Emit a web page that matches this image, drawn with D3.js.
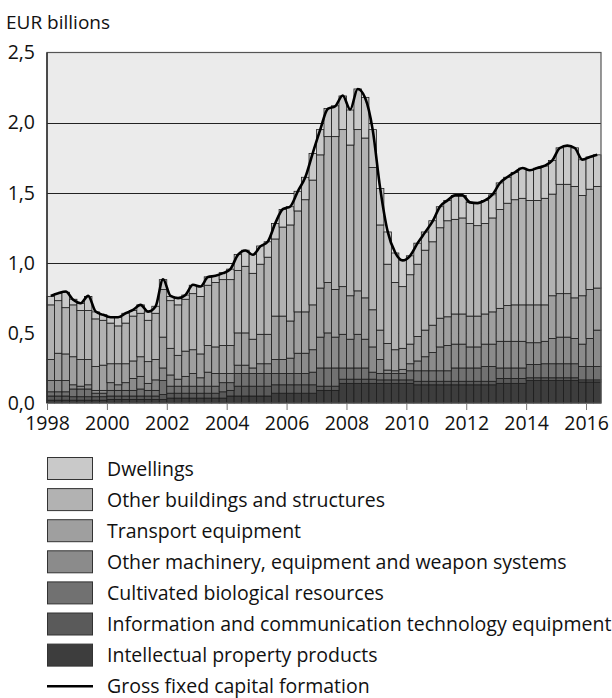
<!DOCTYPE html>
<html>
<head>
<meta charset="utf-8">
<script src="https://cdn.jsdelivr.net/npm/d3@7"></script>
<style>
  body { margin: 0; background: #fff; }
  svg text { font-family: "Open Sans", "Noto Sans", sans-serif; fill: #111; }
</style>
</head>
<body>
<svg id="chart" width="612" height="698"></svg>
<script>
// quarterly data, 1998Q1 .. 2016Q2 (EUR billions)
const startYear = 1998;
const nQuarters = 74;

const dwellings = [
  .06, .05, .11, .04, .05, .10, .05, .04, .04, .06, .07, .04, .06, .06, .05, .07,
  .03, .05, .03, .06, .07, .06, .05, .05, .075, .115, .115, .135, .13, .11, .11, .125,
  .13, .14, .16, .19, .18, .20, .22, .24, .25, .29, .29, .27, .26, .23, .21, .19,
  .135, .15, .13, .15, .15, .145, .17, .16, .15, .16, .165, .165, .19, .185, .195, .215,
  .215, .23, .23, .24, .26, .275, .275, .255, .23, .225
];
const otherBuildings = [
  .39, .375, .33, .37, .35, .35, .34, .32, .29, .27, .29, .32, .31, .295, .33, .34,
  .34, .36, .37, .40, .41, .43, .46, .47, .47, .445, .475, .47, .50, .55, .55, .635,
  .685, .72, .80, .89, .95, 1.04, 1.09, 1.12, 1.075, 1.15, 1.14, 1.015, .75, .565, .48, .44,
  .495, .515, .57, .595, .645, .685, .675, .685, .66, .645, .645, .67, .705, .73, .75, .76,
  .745, .745, .76, .725, .78, .78, .795, .715, .715, .725
];
const transport = [
  .15, .195, .19, .20, .19, .18, .17, .18, .135, .15, .135, .125, .14, .155, .145, .22,
  .19, .17, .18, .17, .17, .19, .19, .20, .20, .23, .23, .205, .21, .21, .31, .31,
  .265, .295, .295, .32, .35, .36, .34, .34, .31, .31, .295, .265, .21, .19, .15, .15,
  .14, .175, .19, .195, .205, .205, .215, .215, .22, .22, .215, .23, .235, .255, .26, .26,
  .27, .27, .26, .305, .31, .31, .29, .345, .35, .30
];
const machinery = [
  .08, .08, .08, .03, .02, .03, .02, .02, .055, .04, .055, .085, .09, .05, .075, .09,
  .08, .05, .07, .09, .06, .10, .09, .065, .065, .06, .06, .04, .07, .07, .10, .10,
  .11, .145, .145, .16, .22, .25, .22, .24, .205, .24, .205, .18, .10, .025, .02, .03,
  .05, .07, .10, .13, .17, .18, .17, .17, .15, .15, .16, .16, .19, .19, .19, .19,
  .155, .155, .16, .18, .19, .19, .18, .16, .20, .26
];
const cultivated = [
  .03, .03, .03, .055, .055, .055, .025, .025, .04, .04, .04, .04, .05, .04, .04, .10,
  .05, .05, .05, .05, .05, .05, .05, .065, .055, .09, .09, .09, .09, .09, .08, .08,
  .08, .08, .08, .09, .13, .13, .13, .08, .08, .08, .08, .05, .045, .045, .045, .045,
  .065, .075, .075, .075, .075, .075, .095, .095, .095, .095, .105, .105, .075, .075, .075, .075,
  .095, .095, .10, .10, .10, .10, .10, .095, .095, .095
];
const ict = [
  .03, .03, .03, .025, .025, .025, .025, .025, .025, .025, .025, .025, .025, .025, .025, .035,
  .035, .035, .035, .035, .035, .035, .035, .045, .04, .07, .07, .07, .07, .07, .06, .06,
  .06, .06, .06, .06, .03, .03, .03, .03, .03, .03, .03, .03, .025, .025, .025, .025,
  .025, .025, .025, .025, .025, .025, .025, .025, .025, .025, .025, .025, .035, .035, .035, .035,
  .02, .02, .02, .02, .02, .02, .02, .015, .015, .015
];
const intellectual = [
  .02, .02, .02, .02, .02, .02, .02, .02, .025, .025, .025, .025, .025, .025, .025, .025,
  .035, .035, .035, .035, .035, .035, .035, .035, .05, .05, .05, .05, .05, .05, .07, .07,
  .07, .07, .07, .07, .09, .09, .09, .14, .14, .14, .14, .14, .14, .14, .14, .14,
  .14, .13, .13, .13, .13, .13, .13, .13, .13, .13, .13, .13, .14, .14, .14, .14,
  .16, .16, .16, .16, .16, .16, .16, .15, .15, .15
];
// gross fixed capital formation (line)
const gfcf = [
  .764, .783, .795, .736, .712, .764, .652, .629, .612, .612, .640, .664, .700, .652, .688, .883,
  .764, .748, .771, .843, .831, .898, .907, .926, .955, 1.057, 1.088, 1.057, 1.117, 1.152, 1.283, 1.383,
  1.402, 1.510, 1.610, 1.783, 1.950, 2.098, 2.117, 2.193, 2.093, 2.240, 2.176, 1.950, 1.533, 1.224, 1.074, 1.017,
  1.050, 1.140, 1.217, 1.295, 1.402, 1.445, 1.481, 1.481, 1.431, 1.426, 1.445, 1.486, 1.569, 1.612, 1.645, 1.676,
  1.660, 1.676, 1.693, 1.731, 1.819, 1.836, 1.819, 1.736, 1.755, 1.771
];

const seriesNames = [
  'Dwellings',
  'Other buildings and structures',
  'Transport equipment',
  'Other machinery, equipment and weapon systems',
  'Cultivated biological resources',
  'Information and communication technology equipment',
  'Intellectual property products'
];
const seriesColors = ['#c9c9c9', '#b2b2b2', '#9f9f9f', '#8b8b8b', '#717171', '#5a5a5a', '#3d3d3d'];
const lineName = 'Gross fixed capital formation';
const yTicks = [0, 0.5, 1.0, 1.5, 2.0, 2.5];
const xTickYears = [1998, 2000, 2002, 2004, 2006, 2008, 2010, 2012, 2014, 2016];

// table for the stack
const allSeries = [dwellings, otherBuildings, transport, machinery, cultivated, ict, intellectual];
const keys = seriesNames.slice().reverse(); // bottom first
const table = d3.range(nQuarters).map(i => {
  const row = { q: i };
  seriesNames.forEach((n, k) => row[n] = allSeries[k][i]);
  return row;
});

const svg = d3.select('#chart');
const margin = { left: 47, right: 11, top: 52.5, bottom: 295 };
const x0 = margin.left, x1 = 612 - margin.right;
const y0 = 403, y1 = margin.top;

const xBand = d3.scaleBand().domain(d3.range(nQuarters)).range([x0, x1]).padding(0);
const xYear = d3.scaleLinear().domain([startYear, startYear + nQuarters / 4]).range([x0, x1]);
const yScale = d3.scaleLinear().domain([0, 2.5]).range([y0, y1]);

// plot background
svg.append('rect')
  .attr('x', x0).attr('y', y1)
  .attr('width', x1 - x0).attr('height', y0 - y1)
  .attr('fill', '#ebebeb');

// gridlines
svg.append('g').selectAll('line')
  .data(yTicks.filter(d => d > 0 && d < 2.5))
  .join('line')
  .attr('x1', x0).attr('x2', x1)
  .attr('y1', d => Math.round(yScale(d)) + 0.5)
  .attr('y2', d => Math.round(yScale(d)) + 0.5)
  .attr('stroke', '#222')
  .attr('stroke-width', 1);

// stacked bars
const stacked = d3.stack().keys(keys)(table);
const layers = svg.append('g').selectAll('g')
  .data(stacked)
  .join('g')
  .attr('fill', d => seriesColors[seriesNames.indexOf(d.key)]);

layers.selectAll('rect')
  .data(d => d)
  .join('rect')
  .attr('x', d => xBand(d.data.q))
  .attr('width', xBand.bandwidth())
  .attr('y', d => yScale(d[1]))
  .attr('height', d => Math.max(0, yScale(d[0]) - yScale(d[1])))
  .attr('stroke', '#1c1c1c')
  .attr('stroke-width', 0.8);

// frame
svg.append('rect')
  .attr('x', x0).attr('y', y1)
  .attr('width', x1 - x0).attr('height', y0 - y1)
  .attr('fill', 'none')
  .attr('stroke', '#555')
  .attr('stroke-width', 1.2);
svg.append('line')
  .attr('x1', x0).attr('x2', x0).attr('y1', y1).attr('y2', y0)
  .attr('stroke', '#222').attr('stroke-width', 1.3);

// line
const line = d3.line()
  .x((d, i) => xBand(i) + xBand.bandwidth() / 2)
  .y(d => yScale(d))
  .curve(d3.curveMonotoneX);
svg.append('path')
  .datum(gfcf)
  .attr('d', line)
  .attr('fill', 'none')
  .attr('stroke', '#000')
  .attr('stroke-width', 2.6)
  .attr('stroke-linejoin', 'round');

// y axis labels
const fmt = d => d3.format('.1f')(d).replace('.', ',');
svg.append('g').selectAll('text')
  .data(yTicks)
  .join('text')
  .attr('x', 35)
  .attr('y', d => yScale(d))
  .attr('dy', '0.35em')
  .attr('text-anchor', 'end')
  .attr('font-size', 19.5)
  .text(fmt);

svg.append('text')
  .attr('x', 6).attr('y', 29)
  .attr('font-size', 19)
  .text('EUR billions');

// x axis
const xAxis = d3.axisBottom(xYear)
  .tickValues(xTickYears)
  .tickFormat(d3.format('d'))
  .tickSize(7)
  .tickPadding(6);
const xAxisG = svg.append('g')
  .attr('transform', `translate(0,${y0})`)
  .call(xAxis);
xAxisG.select('.domain').remove();
xAxisG.selectAll('line').attr('stroke', '#777');
xAxisG.selectAll('text')
  .attr('font-size', 19.5)
  .attr('font-family', '"Open Sans", "Noto Sans", sans-serif')
  .attr('fill', '#111');

// legend
const legend = svg.append('g').attr('transform', 'translate(47,457)');
const rowH = 31.1;
const items = legend.selectAll('g.item')
  .data(seriesNames)
  .join('g')
  .attr('class', 'item')
  .attr('transform', (d, i) => `translate(0,${i * rowH})`);
items.append('rect')
  .attr('x', 0.5).attr('y', 0.5)
  .attr('width', 45).attr('height', 22)
  .attr('fill', (d, i) => seriesColors[i])
  .attr('stroke', '#333')
  .attr('stroke-width', 1);
items.append('text')
  .attr('x', 60).attr('y', 11.5)
  .attr('dy', '0.36em')
  .attr('font-size', 19.5)
  .text(d => d);

const lineItem = legend.append('g')
  .attr('transform', `translate(0,${7 * rowH})`);
lineItem.append('line')
  .attr('x1', 0).attr('x2', 46)
  .attr('y1', 11.5).attr('y2', 11.5)
  .attr('stroke', '#000').attr('stroke-width', 2.6);
lineItem.append('text')
  .attr('x', 60).attr('y', 11.5)
  .attr('dy', '0.36em')
  .attr('font-size', 19.5)
  .text(lineName);
</script>
</body>
</html>
